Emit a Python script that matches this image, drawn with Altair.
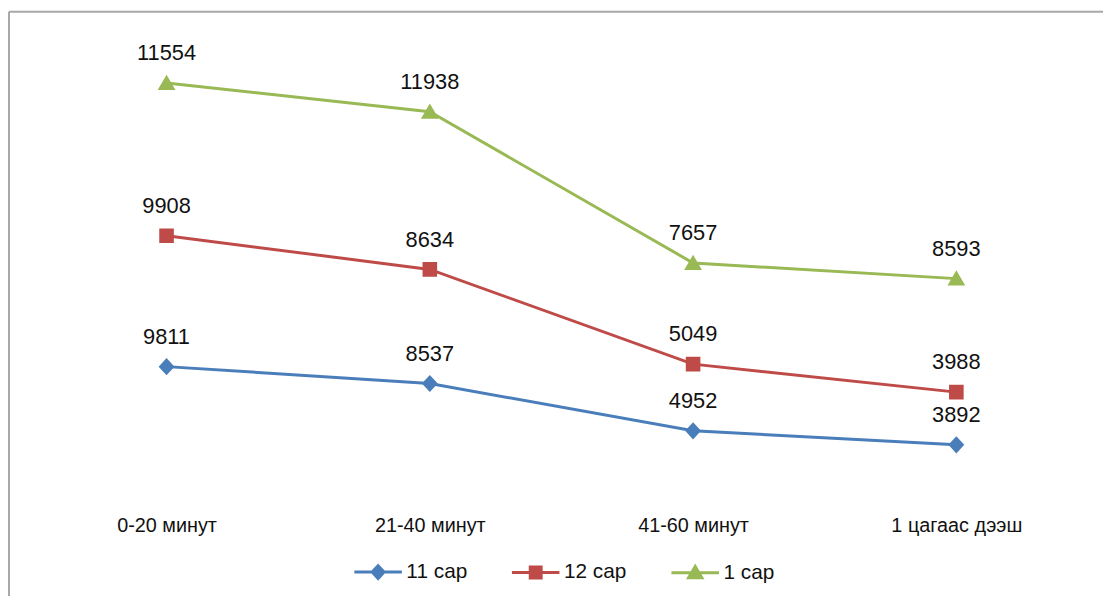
import altair as alt
import pandas as pd

categories = ["0-20 минут", "21-40 минут", "41-60  минут", "1 цагаас дээш"]
series = ["11 сар", "12 сар", "1 сар"]
values_11 = [9811, 8537, 4952, 3892]
values_12 = [9908, 8634, 5049, 3988]
values_1 = [11554, 11938, 7657, 8593]
colors = ["#4A7EBB", "#BE4B48", "#98B954"]

rows = []
cum = [0, 0, 0, 0]
for s, vals in zip(series, [values_11, values_12, values_1]):
    for i, (c, v) in enumerate(zip(categories, vals)):
        cum[i] += v
        rows.append({"cat": c, "series": s, "value": v, "cum": cum[i], "order": series.index(s)})
df = pd.DataFrame(rows)

shapes = [
    "M-1,0H1M0,-0.27L0.25,0L0,0.27L-0.25,0Z",
    "M-1,0H1M-0.23,-0.23H0.23V0.23H-0.23Z",
    "M-1,0H1M0,-0.26L0.28,0.22H-0.28Z",
]

FONT = "Liberation Sans"

x = alt.X("cat:N", sort=categories, title=None,
          scale=alt.Scale(domain=categories, range=[159, 956], padding=0),
          axis=alt.Axis(domain=False, ticks=False, labelPadding=20, labelFontSize=20,
                        labelColor="#111111", labelFont=FONT, labelAngle=0, grid=False))
y = alt.Y("cum:Q", scale=alt.Scale(domain=[0, 36680], nice=False, zero=True), axis=None)

leg = alt.Legend(title=None, orient="none", direction="horizontal",
                 legendX=347, legendY=540, labelFontSize=21, labelFont=FONT,
                 labelColor="#111111", symbolStrokeWidth=3, symbolSize=2300,
                 columnPadding=38, labelOffset=3, symbolOpacity=1)

color = alt.Color("series:N", sort=series, scale=alt.Scale(domain=series, range=colors), legend=leg)
stroke = alt.Stroke("series:N", sort=series, scale=alt.Scale(domain=series, range=colors), legend=leg)
shape = alt.Shape("series:N", sort=series, scale=alt.Scale(domain=series, range=shapes), legend=leg)

base = alt.Chart(df)

lines = base.mark_line(strokeWidth=3).encode(x=x, y=y, stroke=stroke, order="order:O")

points = base.mark_point(filled=True, size=4100, strokeWidth=0, opacity=1).encode(
    x=x, y=y, color=color, stroke=stroke, shape=shape,
)

labels = base.mark_text(dy=-30, fontSize=22, font=FONT, color="#111111").encode(
    x=x, y=y, text="value:Q"
)

frame_top = alt.Chart(pd.DataFrame({"a": [0]})).mark_rule(color="#A8A8A8", strokeWidth=2).encode(
    x=alt.value(0), x2=alt.value(1104), y=alt.value(0))
frame_left = alt.Chart(pd.DataFrame({"a": [0]})).mark_rule(color="#A8A8A8", strokeWidth=2).encode(
    x=alt.value(0), y=alt.value(0), y2=alt.value(590))

chart = alt.layer(frame_top, frame_left, lines, points, labels).properties(
    width=1104, height=489, padding=0, background="white"
).configure_view(stroke=None)

chart.save("out.html", embed_options={"renderer": "svg", "actions": False})
